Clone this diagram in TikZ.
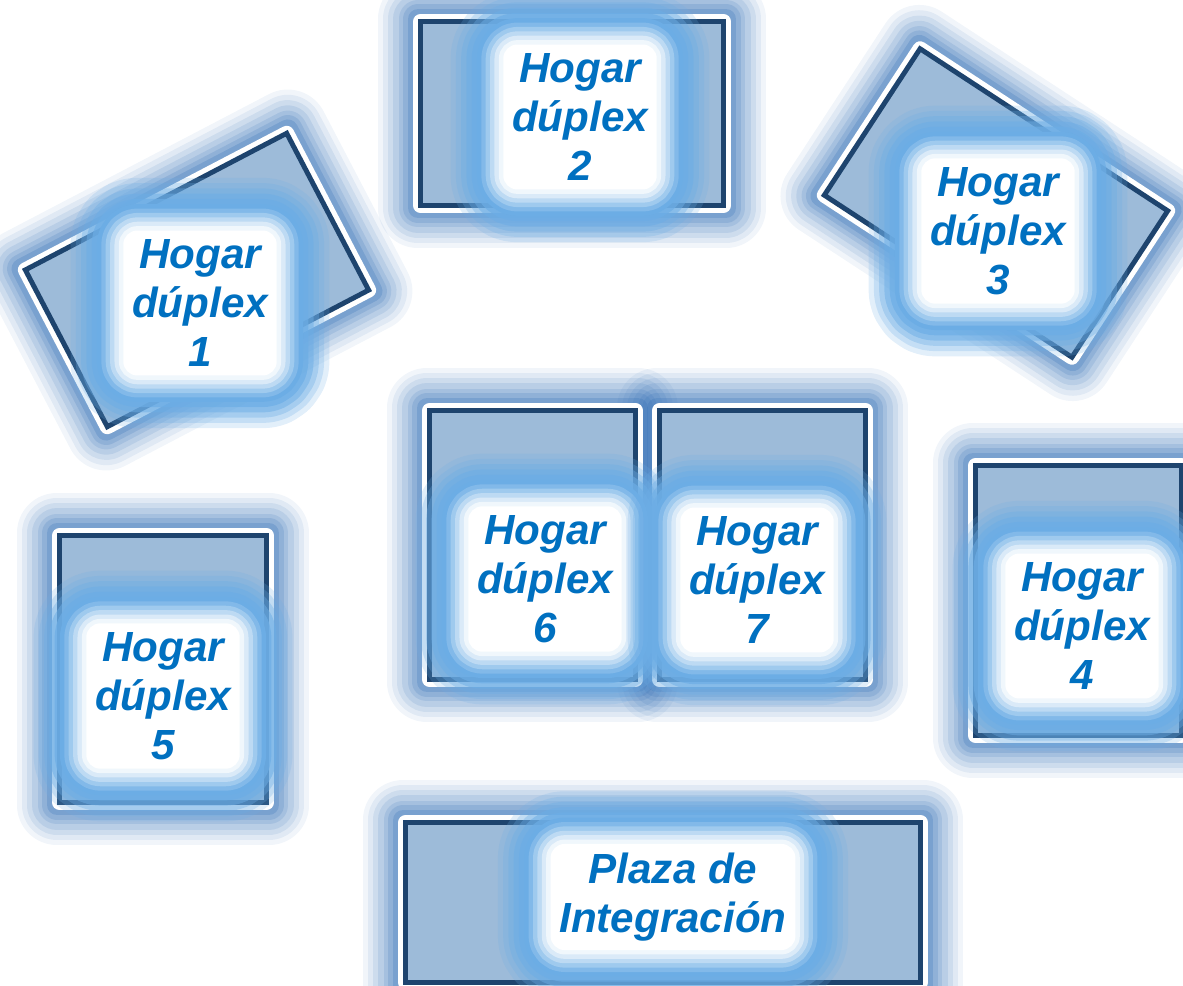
\documentclass[tikz,border=0pt]{standalone}
\usepackage{fontspec}
\newfontfamily\lotefont{Liberation Sans}
\usetikzlibrary{backgrounds}

\definecolor{lotefill}{RGB}{157,187,217}
\definecolor{loteborde}{RGB}{30,68,110}
\definecolor{brillo}{RGB}{52,112,182}
\definecolor{halo}{RGB}{108,173,229}
\definecolor{texto}{RGB}{0,112,192}

\begin{document}
\begin{tikzpicture}[x=0.02cm,y=-0.02cm,
  lote/.style={fill=lotefill, draw=loteborde, line width=2.8pt,
    preaction={draw=white, line width=8.5pt, line join=round}},
  sombra/.style={
    preaction={draw=brillo, line width=46pt, opacity=0.07, line join=round},
    preaction={draw=brillo, line width=40pt, opacity=0.09, line join=round},
    preaction={draw=brillo, line width=34pt, opacity=0.11, line join=round},
    preaction={draw=brillo, line width=28pt, opacity=0.13, line join=round},
    preaction={draw=brillo, line width=22pt, opacity=0.15, line join=round},
    preaction={draw=brillo, line width=17pt, opacity=0.18, line join=round},
    draw=brillo, line width=12pt, draw opacity=0.25, line join=round},
  nucleo/.style={fill=white, text=texto, align=center, inner sep=5pt,
    rounded corners=8pt,
    font=\lotefont\bfseries\itshape\fontsize{24}{28}\selectfont,
    preaction={draw=halo, line width=60pt, opacity=0.2, line join=round},
    preaction={draw=halo, line width=54pt, opacity=0.25, line join=round},
    preaction={draw=halo, line width=48pt, opacity=0.35, line join=round},
    preaction={draw=halo, line width=42pt, opacity=0.5, line join=round},
    preaction={draw=halo, line width=36pt, opacity=0.7, line join=round},
    preaction={draw=halo, line width=30pt, line join=round},
    preaction={draw=halo!85!white, line width=25pt, line join=round},
    preaction={draw=halo!65!white, line width=20pt, line join=round},
    preaction={draw=halo!45!white, line width=15pt, line join=round},
    preaction={draw=halo!25!white, line width=10pt, line join=round},
    preaction={draw=halo!10!white, line width=5pt, line join=round}}]

\useasboundingbox (0,0) rectangle (1183,986);

% Lotes de los hogares
\node[lote, rotate=27.6, minimum width=5.9cm, minimum height=3.54cm] (b1) at (197,280) {};
\node[lote, minimum width=6.06cm, minimum height=3.68cm] (b2) at (572,113.5) {};
\node[lote, rotate=-33.2, minimum width=5.92cm, minimum height=3.5cm] (b3) at (996,203) {};
\node[lote, minimum width=4.12cm, minimum height=5.4cm] (b4) at (1078.5,600.5) {};
\node[lote, minimum width=4.14cm, minimum height=5.34cm] (b5) at (163,669) {};
\node[lote, minimum width=4.12cm, minimum height=5.38cm] (b6) at (532.5,545) {};
\node[lote, minimum width=4.12cm, minimum height=5.38cm] (b7) at (762.5,545) {};

% Plaza
\node[lote, minimum width=10.3cm, minimum height=3.2cm] (plaza) at (663,902.5) {};

% Brillo exterior
\begin{pgfonlayer}{background}
\foreach \n in {b1,b2,b3,b4,b5,b6,b7,plaza}
  \draw[sombra] (\n.north west) -- (\n.north east) -- (\n.south east)
    -- (\n.south west) -- cycle;
\end{pgfonlayer}

% Rotulos
\node[nucleo] (t1) at (200,303) {Hogar\\dúplex\\1};
\node[nucleo] (t2) at (580,117) {Hogar\\dúplex\\2};
\node[nucleo] (t3) at (998,231) {Hogar\\dúplex\\3};
\node[nucleo] (t4) at (1082,626) {Hogar\\dúplex\\4};
\node[nucleo] (t5) at (163,696) {Hogar\\dúplex\\5};
\node[nucleo] (t6) at (545,579) {Hogar\\dúplex\\6};
\node[nucleo] (t7) at (757,580) {Hogar\\dúplex\\7};
\node[nucleo] (t8) at (673,897) {Plaza de\\Integración};

\end{tikzpicture}
\end{document}
